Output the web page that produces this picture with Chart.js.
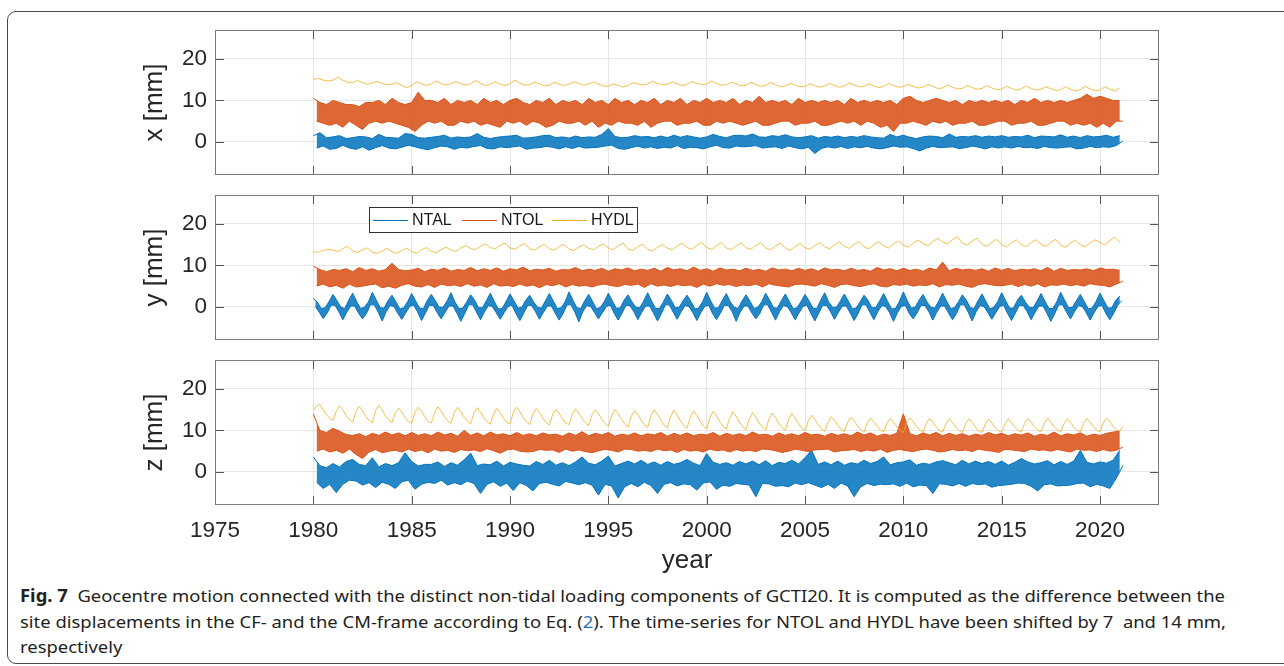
<!DOCTYPE html>
<html><head><meta charset="utf-8">
<script src="https://cdn.jsdelivr.net/npm/chart.js@4.4.1/dist/chart.umd.min.js"></script>
<style>
html,body{margin:0;padding:0;background:#fff;width:1284px;height:666px;overflow:hidden;position:relative;}
#frame{position:absolute;left:7px;top:11px;width:1320px;height:651px;border:1.5px solid #4a4a4a;border-radius:9px;}
canvas{position:absolute;}
.cap{position:absolute;left:20px;font-family:"Noto Sans";font-size:17px;line-height:17px;color:#231f20;white-space:nowrap;transform-origin:0 0;}
.cap b{font-weight:700;}
</style></head><body>
<div id="frame"></div>
<canvas id="c1" width="1040" height="165" style="left:130px;top:20px;width:1040px;height:165px"></canvas>
<canvas id="c2" width="1040" height="165" style="left:130px;top:185px;width:1040px;height:165px"></canvas>
<canvas id="c3" width="1040" height="230" style="left:130px;top:350px;width:1040px;height:230px"></canvas>
<div class="cap" id="l1" style="top:587px"><b>Fig. 7</b>&nbsp;&nbsp;Geocentre motion connected with the distinct non-tidal loading components of GCTI20. It is computed as the difference between the</div>
<div class="cap" id="l2" style="top:613px">site displacements in the CF- and the CM-frame according to Eq. (<span style="color:#2a6ebb">2</span>). The time-series for NTOL and HYDL have been shifted by 7&nbsp; and 14 mm,</div>
<div class="cap" id="l3" style="top:638px">respectively</div>
<script>
// ---------- axis definitions ----------
const X_TICKS = [1975, 1980, 1985, 1990, 1995, 2000, 2005, 2010, 2015, 2020];
const X_MIN = 1975, X_MAX = 2023;
const Y_TICKS = [0, 10, 20];
const Y_MIN = -8, Y_MAX = 27;
const SERIES_NAMES = ['NTAL', 'NTOL', 'HYDL'];
const PANEL_LABELS = ['x [mm]', 'y [mm]', 'z [mm]'];
const START_YEAR = 1980;

// Noisy series (NTAL, NTOL) are read as alternating upper / lower excursions of the
// dense daily trace; HYDL is read as a single smooth line.

// ---------- x component ----------
const HYDL_X = [
15.1,15.3,14.9,14.7, 14.9,15.6,14.9,14.4, 14.3,14.8,14.3,13.9, 14.2,14.6,14.1,13.8,
13.9,14.3,13.6,13.1, 13.6,14.5,14.0,13.6, 14.0,14.7,14.1,13.7, 14.0,14.6,14.0,13.7,
14.0,14.8,14.1,13.6, 13.9,14.5,13.9,13.6, 14.0,14.9,14.2,13.7, 13.8,14.4,14.0,13.5,
13.7,14.4,13.9,13.6, 13.9,14.5,14.1,13.7, 14.0,14.4,13.9,13.5, 13.4,14.0,13.6,13.2,
13.6,14.3,14.0,13.7, 14.0,14.6,14.1,13.8, 13.9,14.5,14.0,13.6, 13.9,14.6,14.1,13.8,
14.0,14.7,14.1,13.7, 13.8,14.4,14.0,13.5, 13.7,14.4,13.8,13.4, 13.6,14.3,13.8,13.3,
13.5,14.1,13.7,13.3, 13.4,14.0,13.5,13.2, 13.5,14.1,13.6,13.2, 13.5,14.2,13.7,13.3,
13.4,14.0,13.5,13.1, 13.4,14.1,13.6,13.2, 13.3,13.9,13.4,13.0, 13.2,13.8,13.4,12.9,
13.0,13.7,13.2,12.8, 12.9,13.6,13.1,12.7, 12.9,13.6,13.0,12.6, 12.7,13.4,12.9,12.5,
12.8,13.5,12.9,12.5, 12.7,13.3,12.8,12.4, 12.6,13.3,12.7,12.3, 12.6,13.4,12.8,12.3,
12.5,13.3,12.7,12.3, 13.0];
const NTOL_X = [
10.5,5,9.5,4.5,9,4, 10,4.5,9.5,3.5,9,5, 9,4,8.5,3,9.5,4.5, 9.5,5,10,4.5,9,5,
10.5,4.5,9.5,4,9,3.5, 9.5,2.5,12,4,10,5, 10,4.5,9.5,5,10.5,4, 9,4,10,5,9.5,4.5,
10,5,9,4,10.5,4.5, 9.5,4,10,3.5,9,5, 10,4.5,10.5,5,9.5,4, 9,5,10,4.5,9.5,3.5,
10.5,4,9,5,10,4.5, 9.5,4.5,10,5,9,4, 10.5,5,9.5,3.5,10,4.5, 9,4,10.5,5,9.5,4.5,
10,4.5,9,4,10,5, 9.5,3.5,10.5,4.5,9,5, 10,5,9.5,4,10.5,4.5, 9,4.5,10,5,9.5,4,
10.5,4,9.5,5,10,4.5, 9.5,5,10.5,4.5,9,4, 10,4.5,9.5,5,11,4, 9.5,4,10,4.5,9.5,5,
10,5,9,4,10.5,4.5, 9.5,4.5,10,5,9.5,4, 10,4,9.5,4.5,10,5, 9,4.5,10.5,5,9.5,4,
10,5,9.5,4.5,10,3.5, 9.5,4,10,2.5,9,4.5, 10.5,4.5,11,5,10,4.5, 9.5,4,10,5,10.5,4.5,
10,5,9.5,4,10,4.5, 9,4.5,10,5,9.5,4, 10,4,9.5,4.5,10,5, 9.5,5,10,4,9,4.5,
10,4.5,9.5,5,10.5,4, 9.5,4,10,4.5,9.5,5, 10,5,9.5,4,10,4.5, 10.5,4,11.5,4.5,10.5,3.5,
11,4.5,10.5,3.5,10,5, 10,5];
const NTAL_X = [
1.5,-1.5,2.2,-1,1,-1.8, 1.2,-1.6,1.5,-0.8,0.8,-1.5, 1,-1.8,1.3,-1.2,1.2,-2, 0.8,-1.4,1.8,-0.9,1.1,-1.5,
1,-1.7,0.9,-1.3,2,-0.8, 1.8,-1.2,1,-1.6,0.9,-1.9, 1.1,-1.4,1.3,-1,1.6,-1.2, 0.9,-1.8,1.2,-1.3,1,-1.5,
1.2,-1.1,2,-0.9,1.1,-1.6, 0.8,-1.7,1.1,-1.2,1.3,-1.4, 1.4,-1.2,1.6,-1,0.9,-1.8, 1,-1.5,1.2,-1.4,1.5,-1.1,
1.6,-1.3,1,-1.7,1.2,-1.2, 0.9,-1.6,1.4,-1.1,1,-1.5, 1.2,-1.4,1.1,-1.3,1.8,-1, 3.2,-0.8,1.3,-1.6,1,-1.8,
1.1,-1.4,1.5,-1,1.2,-1.5, 1.3,-1.2,1,-1.6,1.4,-1.3, 1,-1.5,1.6,-0.9,1.1,-1.6, 1.5,-1.3,1.2,-1.4,0.9,-1.7,
1.2,-1.2,1.8,-0.8,1.3,-1.4, 1,-1.5,1.5,-1,1.6,-1.2, 1.4,-1.1,1.9,-0.9,1.2,-1.5, 1.1,-1.3,1.5,-1.2,1.3,-1.6,
1.7,-1,1.2,-1.4,1,-1.7, 1.2,-1.3,1.5,-2.8,0.9,-1.6, 1.3,-1.2,1.1,-1.5,1.4,-1.1, 1,-1.6,1.3,-1.2,1.1,-1.4,
1.5,-1.1,1.2,-1.5,1,-1.7, 0.9,-1.4,1.8,-1,1.2,-1.3, 1.6,-1.2,1.1,-1.6,0.8,-2.2, 1.2,-1.5,1.4,-1.1,1.3,-1.4,
1,-1.3,1.9,-1.2,1.1,-1.6, 1.3,-1.4,1.2,-1,1.5,-1.3, 1.1,-1.7,1.4,-1.2,1.2,-1.5, 1.5,-1.2,1.1,-1.5,1.3,-1.1,
1.2,-1.4,1.6,-1.3,1,-1.6, 1.4,-1.1,1.3,-1.4,1.2,-1.5, 1.7,-1.3,1.1,-1.2,1.4,-1.7, 1,-1.5,1.5,-1.1,1.2,-1.4,
1.3,-1.2,1.6,-1.3,1.1,-0.9, 1.5,0.2];

// ---------- y component ----------
const HYDL_Y = [
13.3,13.2,13.6,13.9, 13.7,13.4,14.1,14.6, 13.5,13.1,13.8,14.2, 13.2,12.9,13.5,14.1,
13.3,12.9,13.6,14.2, 13.3,13.0,13.8,14.3, 13.4,13.1,13.8,14.4, 13.7,13.4,14.2,14.8,
14.1,13.8,14.6,15.2, 14.3,14.0,14.8,15.4, 14.2,13.9,14.7,15.3, 14.0,13.7,14.5,15.1,
14.0,13.7,14.5,15.1, 13.9,13.6,14.4,15.0, 14.1,13.8,14.6,15.2, 14.2,13.8,14.7,15.4,
14.0,13.6,14.5,15.1, 13.9,13.5,14.4,15.0, 14.2,13.8,14.7,15.4, 14.3,13.9,14.8,15.5,
14.3,13.9,14.8,15.5, 14.2,13.8,14.7,15.4, 14.3,13.9,14.8,15.5, 14.2,13.8,14.7,15.4,
14.1,13.7,14.6,15.3, 14.3,13.9,14.8,15.5, 14.5,14.0,15.0,15.7, 14.6,14.1,15.1,15.8,
14.5,14.0,15.0,15.7, 14.7,14.2,15.2,15.9, 14.9,14.4,15.4,16.1, 15.3,14.8,15.8,16.5,
15.7,15.2,16.2,16.9, 15.4,14.9,15.9,16.6, 15.1,14.6,15.6,16.3, 15.0,14.5,15.5,16.2,
15.0,14.5,15.5,16.2, 15.1,14.6,15.6,16.3, 14.9,14.4,15.4,16.1, 15.0,14.5,15.5,16.2,
15.5,15.0,16.0,16.8, 15.5];
const NTOL_Y = [
9.8,5,9,5.5,8.5,4.8, 9,5.2,8.8,4.5,9.2,5.5, 8.5,4.8,9.5,5,8.8,5.3, 9.2,5.5,8.6,4.6,9,5,
10.5,4.5,9,5.2,8.7,5.6, 8.9,5,9.3,4.8,8.5,5.4, 9.1,4.7,8.8,5.5,9.4,5.1, 8.6,5.3,9,4.9,8.8,5.6,
9.5,5,8.7,5.3,9.2,4.7, 8.8,5.6,9.4,5,8.6,5.2, 9.2,4.9,8.9,5.5,9.6,5, 8.7,5.3,9.1,4.6,8.9,5.4,
9.3,5.1,8.6,5.6,9,4.8, 8.9,5.4,9.5,5,8.7,5.2, 9.1,4.8,8.8,5.3,9.3,5.5, 8.6,5.1,9.2,4.9,8.9,5.4,
9.4,5.2,8.7,5.5,9.1,4.7, 8.8,5.6,9.3,5,8.6,5.3, 9.5,4.9,8.9,5.4,9.2,5.1, 8.7,5.3,9.6,4.7,8.8,5.5,
9.2,5,8.6,5.6,9.4,5.2, 8.9,5.4,9.1,4.9,8.7,5.3, 9.3,5.1,8.8,5.5,9,4.8, 8.6,5.6,9.4,5.2,8.9,5,
9.1,4.8,8.7,5.4,9.3,5.5, 8.8,5.3,9.2,5,8.6,5.6, 9.4,5.2,8.9,4.7,9.1,5.4, 8.7,5.5,9.3,5.1,8.8,4.9,
9,5.3,8.6,5.6,9.5,5, 8.9,4.8,9.2,5.4,8.7,5.2, 9.3,5.5,8.8,5,9.1,5.3, 8.6,5.1,9.4,5.6,8.9,4.8,
10.8,5.4,8.7,5.2,9.3,5.5, 8.9,5,9.1,4.7,8.8,5.4, 9.2,5.6,8.6,5.3,9.4,5.1, 8.8,5.2,9.3,5.5,8.7,4.9,
9.1,5.4,8.9,5,9.2,5.6, 8.7,4.8,9.5,5.3,8.6,5.2, 9.3,5.5,8.8,5.1,9,5.4, 8.9,5,9.2,5.6,8.7,5.3,
9.4,5.2,9,4.8,9.1,5.5, 8.8,6.2];
// NTAL y, 10 samples per year (annual cycle)
const NTAL_Y = [
2.0,0.1,1.2,-1.3,-0.4,-2.8,-0.2,-1.5,1.3,0.4,  3.0,0.4,1.5,-1.2,-0.1,-3.1,-0.4,-1.3,1.6,0.2,
3.3,0.2,1.3,-1.5,-0.4,-2.9,-0.1,-1.6,1.2,0.5,  3.5,0.5,1.6,-1.3,-0.2,-3.4,-0.3,-1.2,1.5,0.3,
2.8,0.1,1.2,-1.6,-0.5,-3.0,-0.2,-1.4,1.3,0.1,  3.2,0.4,1.4,-1.2,-0.3,-3.3,-0.4,-1.5,1.6,0.4,
3.0,0.3,1.5,-1.4,-0.1,-2.9,-0.1,-1.3,1.4,0.2,  3.4,0.2,1.2,-1.5,-0.4,-3.5,-0.3,-1.6,1.2,0.5,
2.9,0.5,1.6,-1.3,-0.2,-3.1,-0.2,-1.2,1.5,0.3,  3.3,0.1,1.3,-1.4,-0.5,-3.0,-0.4,-1.4,1.3,0.1,
3.1,0.4,1.5,-1.6,-0.3,-3.3,-0.1,-1.5,1.6,0.4,  2.8,0.3,1.2,-1.2,-0.1,-3.0,-0.3,-1.3,1.4,0.2,
3.2,0.2,1.4,-1.5,-0.4,-3.2,-0.2,-1.6,1.2,0.5,  3.6,0.5,1.6,-1.3,-0.2,-3.6,-0.4,-1.2,1.5,0.3,
3.0,0.1,1.3,-1.4,-0.5,-2.9,-0.1,-1.4,1.3,0.1,  3.3,0.4,1.5,-1.6,-0.3,-3.2,-0.3,-1.5,1.6,0.4,
2.9,0.3,1.2,-1.2,-0.1,-3.1,-0.2,-1.3,1.4,0.2,  3.4,0.2,1.4,-1.5,-0.4,-3.4,-0.4,-1.6,1.2,0.5,
3.1,0.5,1.6,-1.3,-0.2,-3.0,-0.1,-1.2,1.5,0.3,  2.8,0.1,1.3,-1.4,-0.5,-3.3,-0.3,-1.4,1.3,0.1,
3.5,0.4,1.5,-1.6,-0.3,-3.1,-0.2,-1.5,1.6,0.4,  3.2,0.3,1.2,-1.2,-0.1,-3.5,-0.4,-1.3,1.4,0.2,
2.9,0.2,1.4,-1.5,-0.4,-2.9,-0.1,-1.6,1.2,0.5,  3.3,0.5,1.6,-1.3,-0.2,-3.2,-0.3,-1.2,1.5,0.3,
3.1,0.1,1.3,-1.4,-0.5,-3.1,-0.2,-1.4,1.3,0.1,  3.0,0.4,1.5,-1.6,-0.3,-3.4,-0.4,-1.5,1.6,0.4,
3.4,0.3,1.2,-1.2,-0.1,-3.0,-0.1,-1.3,1.4,0.2,  3.1,0.2,1.4,-1.5,-0.4,-3.3,-0.3,-1.6,1.2,0.5,
2.8,0.5,1.6,-1.3,-0.2,-3.1,-0.2,-1.2,1.5,0.3,  3.2,0.1,1.3,-1.4,-0.5,-3.5,-0.4,-1.4,1.3,0.1,
3.6,0.4,1.5,-1.6,-0.3,-2.9,-0.1,-1.5,1.6,0.4,  3.0,0.3,1.2,-1.2,-0.1,-3.2,-0.3,-1.3,1.4,0.2,
3.3,0.2,1.4,-1.5,-0.4,-3.1,-0.2,-1.6,1.2,0.5,  2.9,0.5,1.6,-1.3,-0.2,-3.4,-0.4,-1.2,1.5,0.3,
3.1,0.1,1.3,-1.4,-0.5,-3.0,-0.1,-1.4,1.3,0.1,  3.4,0.4,1.5,-1.6,-0.3,-3.3,-0.3,-1.5,1.6,0.4,
2.8,0.3,1.2,-1.2,-0.1,-3.1,-0.2,-1.3,1.4,0.2,  3.2,0.2,1.4,-1.5,-0.4,-3.5,-0.4,-1.6,1.2,0.5,
3.5,0.5,1.6,-1.3,-0.2,-2.9,-0.1,-1.2,1.5,0.3,  3.0,0.1,1.3,-1.4,-0.5,-3.2,-0.3,-1.4,1.3,0.1,
3.3,0.4,1.5,-1.6,-0.3,-3.1,-0.2,-1.5,1.6,0.4,  2.6,1.5];

// ---------- z component ----------
const HYDL_Z = [
14.8,15.9,16.3,15.0,13.8,12.9, 12.4,14.6,15.9,15.0,13.6,12.6, 12.0,14.5,15.8,14.8,13.4,12.4, 11.8,14.8,16.1,15.0,13.5,12.5,
11.9,14.2,15.4,14.4,13.1,12.2, 11.7,14.3,15.6,14.6,13.3,12.2, 11.8,14.4,15.7,14.6,13.3,12.3, 11.7,14.3,15.6,14.5,13.2,12.2,
11.6,14.2,15.5,14.4,13.1,12.1, 11.5,14.0,15.3,14.3,13.0,12.0, 11.6,14.3,15.6,14.5,13.2,12.1, 11.4,14.0,15.3,14.3,13.0,11.9,
11.3,13.8,15.1,14.1,12.8,11.8, 11.4,13.9,15.2,14.2,12.9,11.8, 11.2,13.7,15.0,14.0,12.7,11.7, 11.0,13.6,15.0,14.0,12.6,11.6,
10.8,13.4,14.8,13.8,12.4,11.4, 10.7,13.5,15.0,13.9,12.5,11.3, 10.6,13.3,14.8,13.7,12.3,11.2, 10.5,13.2,14.7,13.6,12.2,11.1,
10.4,13.1,14.6,13.5,12.1,11.0, 10.3,13.0,14.5,13.4,12.0,10.9, 10.2,12.8,14.3,13.2,11.8,10.8, 10.1,12.7,14.2,13.1,11.7,10.7,
10.0,12.6,14.1,13.0,11.6,10.6, 9.9,12.3,13.7,12.7,11.4,10.4, 9.8,12.0,13.3,12.4,11.2,10.3, 9.7,11.9,13.2,12.3,11.1,10.2,
9.6,11.8,13.0,12.1,11.0,10.1, 9.6,11.7,12.9,12.0,10.9,10.0, 9.5,11.8,13.0,12.1,11.0,10.1, 9.6,11.7,12.9,12.0,10.9,10.0,
9.6,11.6,12.8,11.9,10.8,10.0, 9.5,11.6,12.8,11.9,10.8,9.9, 9.5,11.5,12.7,11.8,10.7,9.9, 9.6,11.6,12.8,11.9,10.8,10.0,
9.6,11.7,12.9,12.0,10.9,10.1, 9.7,11.7,12.9,12.0,10.9,10.1, 9.6,11.6,12.8,11.9,10.8,10.0, 9.6,11.7,12.9,12.0,10.9,10.0,
9.7,11.8,13.0,12.1,11.0,10.1, 9.8,10.9];
const NTOL_Z = [
14,5,10,5.5,9.5,4.8, 10.5,5.2,9.8,4.5,9,5.5, 8.8,4.2,9.2,3.2,8.5,4.8, 9.3,5.4,8.8,4.6,9.6,5,
8.9,5.2,9.4,4.8,8.7,5.5, 9.5,4.9,8.8,5.3,9.2,4.6, 8.7,5.5,9.6,5,8.9,5.2, 9.3,4.7,8.6,5.4,10,5.1,
8.8,5.3,9.4,4.9,8.7,5.6, 9.6,5.1,8.9,4.5,9.2,5.3, 8.7,5.5,9.5,5,8.8,4.8, 9.2,4.9,8.7,5.4,9.4,5.2,
8.9,5.3,9.1,4.7,8.6,5.5, 9.4,5,8.8,5.3,9.7,4.9, 8.7,4.6,9.3,5.1,8.9,5.4, 9.5,5.2,8.6,4.8,9.1,5.5,
8.8,5.4,9.4,5,8.7,5.2, 9.2,4.9,8.9,5.5,9.5,5.1, 8.6,5.3,9.3,4.7,8.8,5.4, 9.4,5,8.7,5.2,9.1,4.8,
8.9,5.5,9.5,5.1,8.6,5.3, 9.3,4.8,8.8,5.4,9.2,5, 8.7,5.2,9.6,4.9,8.9,5.5, 9.1,5.4,8.6,5.1,9.4,4.7,
8.8,5,9.2,5.5,8.7,5.2, 9.5,4.9,8.9,5.3,9.1,5.4, 8.6,5.5,9.3,4.8,8.8,5.1, 9.2,5.2,8.7,5.4,9.6,4.9,
8.9,5.3,9.4,5,8.6,5.5, 9.1,4.7,8.8,5.2,9.3,5.4, 14,5.1,9.2,4.9,8.7,5.3, 9.4,5.5,8.9,5.2,9.5,4.8,
8.7,5,9.3,5.4,8.8,5.1, 9.2,5.3,8.6,4.9,9.1,5.5, 8.8,5.2,9.5,5,8.9,4.7, 9.3,5.4,8.7,5.3,9.2,5.1,
8.9,4.9,9.4,5.5,8.6,5.2, 9.1,5.3,8.8,5,9.6,5.4, 8.7,5.1,9.2,4.8,8.9,5.5, 9.4,5.2,8.6,5.3,9.1,4.9,
8.8,5.4,9.3,5,9.6,5.2, 9.8,6];
const NTAL_Z = [
3.6,-2.5,1.5,-4,1,-3, 2,-5,1.2,-3,2.5,-2, 3,-2.2,1.8,-3.2,1.5,-2.6, 3.4,-3.8,1.2,-2.5,2,-3,
1.5,-4,2.2,-2.4,4.6,-2, 2.5,-4.2,1.4,-3,1.8,-2.5, 1.8,-2.8,2.4,-2,1.3,-3.2, 2.2,-2.6,1.6,-3.1,2.9,-2.2,
4.5,-2.8,1.5,-5.2,1.9,-3, 1.7,-2.4,2.6,-3.5,1.4,-2.7, 2.3,-4.5,1.9,-2.6,1.6,-3.3, 1.4,-4.6,2.5,-2.8,1.8,-2.5,
2.8,-3,1.6,-3.4,2.2,-2.3, 1.5,-2.7,2.4,-3.1,3.6,-2.6, 2.1,-3.2,1.7,-5.6,2.6,-3, 3.8,-3.4,1.4,-6.3,2,-3.6,
2.6,-2.8,1.9,-3.6,2.8,-2.5, 1.8,-3.3,2.4,-5.2,1.6,-3, 2.5,-2.6,1.8,-3.4,2.2,-2.9, 3,-3.1,2.1,-4.4,1.5,-2.7,
4.4,-2.4,2.3,-4.2,1.8,-3.2, 2.2,-3.5,1.6,-2.8,2.5,-3, 1.9,-3.2,2.6,-6,1.7,-2.8, 2.7,-2.9,1.5,-3.5,2.3,-3.3,
2,-3.6,2.8,-2.7,1.9,-3.1, 3.4,-2.6,5.2,-3.2,1.8,-3.8, 2.4,-3,1.7,-4,2.6,-2.7, 1.6,-3.4,2.2,-6,1.9,-3.6,
2.8,-2.8,2,-3.3,2.5,-3, 3.6,-3.1,1.7,-2.9,2.2,-3.5, 2.4,-2.7,2.9,-3.6,1.6,-3.2, 2.1,-3.3,1.8,-5.2,2.4,-2.9,
2.7,-3,2.2,-3.4,1.7,-2.8, 2.8,-3.5,1.9,-2.8,2.6,-3.1, 2,-2.9,2.5,-3.7,1.8,-3.3, 2.6,-3.2,1.6,-3,2.3,-2.7,
3.2,-2.8,2.4,-3.5,1.9,-4.6, 2.2,-3.1,2.7,-2.9,1.7,-3.4, 2.5,-3.3,1.8,-3.2,2.6,-2.8, 5.2,-2.7,2.3,-3.6,1.9,-3,
2.4,-3.4,2.1,-4,2.8,-1.5, 5.2,1.5];

// ---------- rendering ----------
const COLORS = ['#0072BD', '#D95319', '#EDB120'];
const FILLS = ['rgba(0,114,189,0.85)', 'rgba(217,83,25,0.88)'];
const toXY = (vals, perYear) => vals.map((v, i) => ({x: START_YEAR + i / perYear, y: v}));

// upper excursions (even samples) and lower excursions (odd samples), band filled between
function noisyBand(k, vals, rate, order) {
  const pts = toXY(vals, rate);
  return [
    {label: SERIES_NAMES[k], data: pts.filter((p, i) => i % 2 === 0), borderColor: COLORS[k], borderWidth: 1, fill: false, order: order},
    {label: SERIES_NAMES[k], data: pts.filter((p, i) => i % 2 === 1), borderColor: COLORS[k], borderWidth: 1, fill: '-1', backgroundColor: FILLS[k], order: order}
  ];
}

const matlabAxes = {
  id: 'matlabAxes',
  afterDatasetsDraw(chart, args, opts) {
    const {ctx, chartArea: a, scales} = chart;
    const x = scales.x, y = scales.y;
    ctx.save();
    const L = 9;
    ctx.strokeStyle = '#555';
    ctx.lineWidth = 1;
    ctx.beginPath();
    x.ticks.forEach(t => {
      const px = Math.round(x.getPixelForValue(t.value)) + 0.5;
      ctx.moveTo(px, a.top); ctx.lineTo(px, a.top + L);
      ctx.moveTo(px, a.bottom); ctx.lineTo(px, a.bottom - L);
    });
    y.ticks.forEach(t => {
      const py = Math.round(y.getPixelForValue(t.value)) + 0.5;
      ctx.moveTo(a.left, py); ctx.lineTo(a.left + L, py);
      ctx.moveTo(a.right, py); ctx.lineTo(a.right - L, py);
    });
    ctx.stroke();
    ctx.strokeStyle = '#7a7a7a';
    ctx.strokeRect(Math.round(a.left) + 0.5, Math.round(a.top) + 0.5, Math.round(a.right - a.left) - 1, Math.round(a.bottom - a.top) - 1);
    if (opts.legend) {
      const lg = opts.legend;
      ctx.fillStyle = '#fff';
      ctx.fillRect(lg.x, lg.y, lg.w, lg.h);
      ctx.strokeStyle = '#333';
      ctx.strokeRect(lg.x + 0.5, lg.y + 0.5, lg.w, lg.h);
      ctx.font = '16px "Liberation Sans", Arial, sans-serif';
      ctx.textBaseline = 'middle';
      ctx.textAlign = 'left';
      SERIES_NAMES.forEach((name, i) => {
        const sx = lg.items[i];
        ctx.strokeStyle = COLORS[i];
        ctx.lineWidth = 1;
        ctx.beginPath();
        ctx.moveTo(sx, lg.lineY + 0.5); ctx.lineTo(sx + lg.sample, lg.lineY + 0.5);
        ctx.stroke();
        ctx.fillStyle = '#1a1a1a';
        ctx.fillText(name, sx + lg.sample + 4, lg.textY);
      });
    }
    ctx.restore();
  }
};

function makePanel(id, label, ntal, ntalRate, ntol, ntolRate, hydl, hydlRate, xAxisHeight, showX, legend) {
  const font = {family: '"Liberation Sans", Arial, sans-serif', size: 22.5};
  return new Chart(document.getElementById(id), {
    type: 'line',
    data: {
      datasets: [
        ...noisyBand(0, ntal, ntalRate, 2),
        ...noisyBand(1, ntol, ntolRate, 1),
        {label: SERIES_NAMES[2], data: toXY(hydl, hydlRate), borderColor: 'rgba(237,177,32,0.8)', borderWidth: 1, fill: false, order: 0}
      ]
    },
    options: {
      responsive: false,
      animation: false,
      parsing: false,
      normalized: true,
      elements: {point: {radius: 0}, line: {tension: 0, borderJoinStyle: 'round'}},
      layout: {padding: {top: 10, right: 11, left: 0, bottom: 0}},
      plugins: {legend: {display: false}, tooltip: {enabled: false}, filler: {propagate: false}, matlabAxes: {legend: legend}},
      scales: {
        x: {
          type: 'linear', min: X_MIN, max: X_MAX,
          afterBuildTicks: s => { s.ticks = X_TICKS.map(v => ({value: v})); },
          afterFit: s => { s.height = xAxisHeight; s.paddingLeft = 0; s.paddingRight = 0; },
          grid: {color: '#e6e6e6', drawTicks: false},
          border: {display: false},
          ticks: {display: showX, font: font, color: '#262626', padding: 12, maxRotation: 0, autoSkip: false, callback: v => String(v)},
          title: {display: showX, text: 'year', font: {family: font.family, size: 26}, color: '#262626', padding: {top: 0, bottom: 4}}
        },
        y: {
          type: 'linear', min: Y_MIN, max: Y_MAX,
          afterBuildTicks: s => { s.ticks = Y_TICKS.map(v => ({value: v})); },
          afterFit: s => { s.width = 85; s.paddingTop = 0; s.paddingBottom = 0; },
          grid: {color: '#e6e6e6', drawTicks: false},
          border: {display: false},
          ticks: {font: font, color: '#262626', padding: 8},
          title: {display: true, text: label, font: {family: font.family, size: 26}, color: '#262626', padding: {top: 9, bottom: 0}}
        }
      }
    },
    plugins: [matlabAxes]
  });
}

makePanel('c1', PANEL_LABELS[0], NTAL_X, 6, NTOL_X, 6, HYDL_X, 4, 10, false, null);
makePanel('c2', PANEL_LABELS[1], NTAL_Y, 10, NTOL_Y, 6, HYDL_Y, 4, 10, false,
  {x: 239, y: 22, w: 268, h: 25, items: [243, 332, 422], sample: 35, lineY: 35, textY: 36});
makePanel('c3', PANEL_LABELS[2], NTAL_Z, 6, NTOL_Z, 6, HYDL_Z, 6, 75, true, null);

// caption lines: compress horizontally like the reference typesetting
(function () {
  const l1 = document.getElementById('l1');
  const w1 = l1.getBoundingClientRect().width;
  const k = 1205 / w1;
  ['l1', 'l2', 'l3'].forEach(id => { document.getElementById(id).style.transform = 'scaleX(' + k + ')'; });
})();
</script>
</body></html>
